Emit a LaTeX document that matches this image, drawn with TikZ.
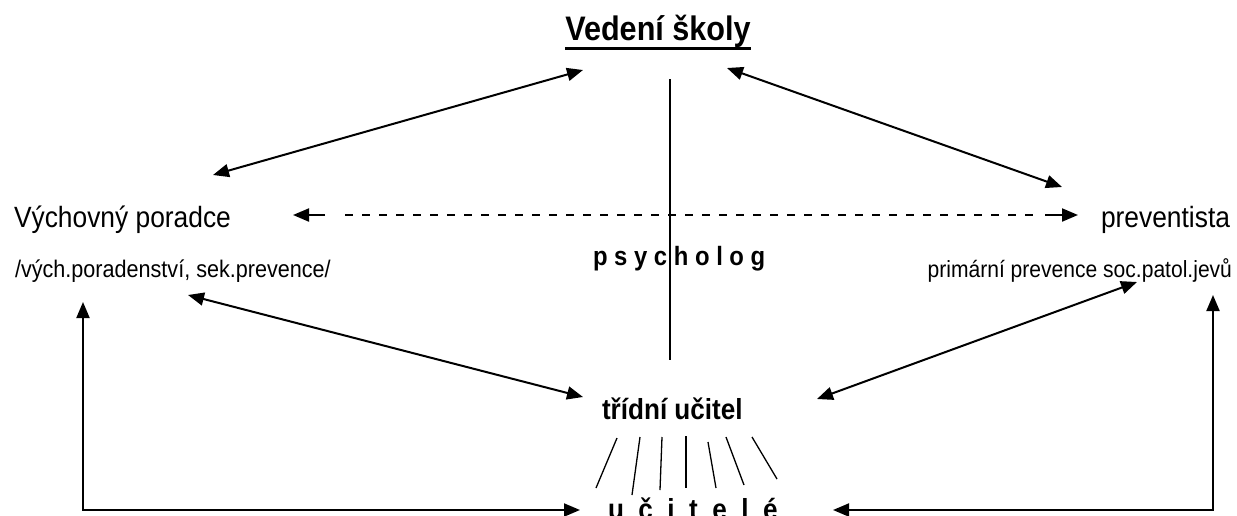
\documentclass[tikz,border=0pt]{standalone}
\usepackage{fontspec}
\setmainfont{Liberation Sans}[FakeStretch=0.9]
\usetikzlibrary{arrows.meta}
\tikzset{
  txt/.style={inner sep=0pt, outer sep=0pt},
  tip/.tip={Triangle[length=16pt,width=13pt]},
  both/.style={line width=2pt, tip-tip},
  one/.style={line width=2pt, -tip},
  plain/.style={line width=2pt},
  fan/.style={line width=1.3pt},
  dash line/.style={line width=2pt, dash pattern=on 8pt off 9pt}
}
\begin{document}
\begin{tikzpicture}[x=1pt,y=-1pt]
\useasboundingbox (0,0) rectangle (1237,515);
% texts
\node[txt, anchor=base] (title) at (658,40) {\fontsize{34}{40}\selectfont\bfseries Vedení školy};
\draw[line width=3pt] ([yshift=-8pt]title.base west) -- ([yshift=-8pt]title.base east);
\node[txt, anchor=base west] (vp) at (14,227) {\fontsize{29.3}{35}\selectfont Výchovný poradce};
\node[txt, anchor=base west] (vpsub) at (15,277) {\fontsize{24}{29}\selectfont /vých.poradenství, sek.prevence/};
\node[txt, anchor=base east] (pr) at (1230,227) {\fontsize{29.3}{35}\selectfont preventista};
\node[txt, anchor=base east] (prsub) at (1232,277) {\fontsize{23.4}{28}\selectfont primární prevence soc.patol.jevů};
\node[txt, anchor=base west] (psy) at (593,265) {\fontsize{26.5}{32}\selectfont\bfseries p s y c h o l o g};
\node[txt, anchor=base west] (tu) at (602,419) {\fontsize{29}{35}\selectfont\bfseries třídní učitel};
\node[txt, anchor=base west] (uc) at (608,519) {\fontsize{29}{35}\selectfont\bfseries u\hspace{14.5pt}č\hspace{14.5pt}i\hspace{14.5pt}t\hspace{14.5pt}e\hspace{14.5pt}l\hspace{14.5pt}é};
% connector end points
\coordinate (vsL) at (583,70);
\coordinate (vpT) at (213,175);
\coordinate (vsR) at (727,68);
\coordinate (prT) at (1062,187);
\coordinate (vpB) at (188,295);
\coordinate (tuL) at (583,397);
\coordinate (prB) at (1137,282);
\coordinate (tuR) at (817,399);
\coordinate (psTop) at (670,79);
\coordinate (psBot) at (670,360);
\coordinate (dLtip) at (293,215);
\coordinate (dLend) at (325,215);
\coordinate (dA) at (345,215);
\coordinate (dB) at (1037,215);
\coordinate (dRend) at (1045,215);
\coordinate (dRtip) at (1078,215);
\coordinate (blT) at (83,302);
\coordinate (blC) at (83,510);
\coordinate (blE) at (580,510);
\coordinate (brT) at (1213,295);
\coordinate (brC) at (1213,510);
\coordinate (brE) at (833,510);
% connectors
\draw[both] (vpT) -- (vsL);
\draw[both] (vsR) -- (prT);
\draw[both] (vpB) -- (tuL);
\draw[both] (prB) -- (tuR);
\draw[plain] (psTop) -- (psBot);
\draw[one] (dLend) -- (dLtip);
\draw[dash line] (dA) -- (dB);
\draw[one] (dRend) -- (dRtip);
\draw[both] (blT) -- (blC) -- (blE);
\draw[both] (brT) -- (brC) -- (brE);
% fan
\coordinate (f1a) at (617,438); \coordinate (f1b) at (596,488);
\coordinate (f2a) at (640,437); \coordinate (f2b) at (632,495);
\coordinate (f3a) at (662,437); \coordinate (f3b) at (660,490);
\coordinate (f4a) at (686,436); \coordinate (f4b) at (686,488);
\coordinate (f5a) at (708,442); \coordinate (f5b) at (716,488);
\coordinate (f6a) at (726,437); \coordinate (f6b) at (744,485);
\coordinate (f7a) at (752,437); \coordinate (f7b) at (777,479);
\foreach \i in {1,...,7} \draw[fan] (f\i a) -- (f\i b);
\end{tikzpicture}
\end{document}
